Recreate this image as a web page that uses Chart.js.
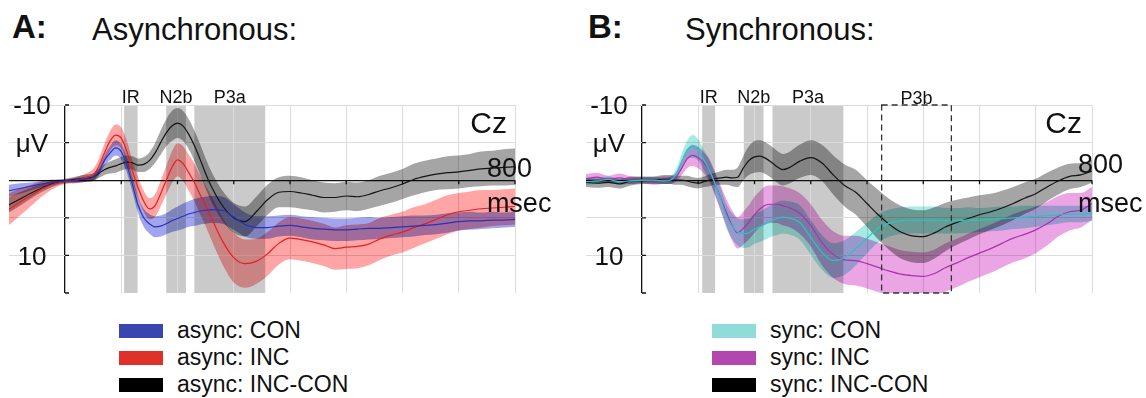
<!DOCTYPE html>
<html>
<head>
<meta charset="utf-8">
<script src="https://cdn.jsdelivr.net/npm/chart.js@4"></script>
<style>
  body { margin: 0; width: 1146px; height: 398px; position: relative; overflow: hidden; background: #fff;
         font-family: "Liberation Sans", Arial, sans-serif; color: #111; }
  .letter { position: absolute; font-size: 33px; font-weight: bold; line-height: 33px; }
  .title { position: absolute; font-size: 31px; line-height: 31px; }
  canvas { position: absolute; }
  .legend { position: absolute; top: 317px; }
  .legend-row { display: flex; align-items: center; height: 27px; font-size: 23px; }
  .swatch { width: 44px; height: 14px; margin-right: 14px; }
</style>
</head>
<body>
<div class="letter" style="left:12px;top:10px">A:</div>
<div class="title" style="left:92px;top:14px">Asynchronous:</div>
<div class="letter" style="left:588px;top:10px">B:</div>
<div class="title" style="left:685px;top:14px">Synchronous:</div>

<canvas id="chartA" width="570" height="220" style="left:0;top:80px"></canvas>
<canvas id="chartB" width="571" height="220" style="left:575px;top:80px"></canvas>

<div class="legend" id="legendA" style="left:119px"></div>
<div class="legend" id="legendB" style="left:712px"></div>

<script>
// time axis (ms)
const times = [-100, -80, -60, -40, -20, 0, 20, 40,
  50, 60, 70, 80, 90, 100, 110, 120, 130, 140, 150, 160, 170, 180, 190, 200, 210, 220, 230, 240, 250, 260,
  280, 300, 320, 340, 360, 380, 400, 420, 440, 460, 480, 500, 520, 540, 560, 580, 600, 620, 640, 660, 680, 700, 720, 740, 760, 780, 800];

// A: asynchronous (µV), with standard error
const asyncCon = [1.4, 1.1, 0.8, 0.5, 0.3, 0.1, 0.0, -0.2,
  -0.4, -1.1, -2.6, -3.6, -4.3, -3.8, -2.0, 0.6, 3.3, 5.0, 5.8, 6.2, 6.1, 5.8, 5.4, 5.1, 4.8, 4.5, 4.3, 4.1, 4.0, 3.9,
  4.0, 4.9, 5.9, 6.3, 6.3, 6.1, 6.0, 6.2, 6.4, 6.5, 6.6, 6.6, 6.5, 6.4, 6.4, 6.3, 6.2, 6.1, 6.0, 5.9, 5.7, 5.5, 5.4, 5.4, 5.3, 5.3, 5.2];
const asyncConSem = [0.8, 0.7, 0.5, 0.4, 0.3, 0.2, 0.3, 0.3,
  0.4, 0.5, 0.7, 0.9, 1.0, 1.0, 1.0, 1.0, 1.1, 1.2, 1.3, 1.4, 1.4, 1.4, 1.5, 1.6, 1.7, 1.7, 1.8, 1.8, 1.8, 1.8,
  1.8, 1.7, 1.6, 1.5, 1.5, 1.4, 1.4, 1.4, 1.5, 1.5, 1.5, 1.5, 1.5, 1.5, 1.4, 1.4, 1.4, 1.4, 1.3, 1.3, 1.3, 1.2, 1.2, 1.1, 1.1, 1.0, 1.0];
const asyncInc = [3.9, 2.9, 2.0, 1.1, 0.5, 0.2, 0.0, -0.4,
  -0.7, -1.8, -3.6, -5.2, -6.0, -5.6, -3.8, -1.2, 1.0, 2.8, 3.8, 3.4, 1.8, 0.0, -1.7, -2.7, -2.2, -1.0, 0.3, 1.9, 3.4, 5.0,
  8.1, 10.3, 11.1, 10.8, 9.8, 8.4, 7.7, 7.9, 8.2, 8.6, 9.1, 8.9, 8.8, 8.5, 7.8, 7.3, 6.9, 6.3, 5.8, 5.2, 4.6, 4.2, 4.0, 3.8, 3.7, 3.6, 3.5];
const asyncIncSem = [2.1, 1.8, 1.4, 1.0, 0.6, 0.3, 0.4, 0.6,
  0.8, 1.0, 1.2, 1.3, 1.4, 1.4, 1.4, 1.4, 1.4, 1.4, 1.4, 1.5, 1.7, 1.9, 2.1, 2.2, 2.3, 2.4, 2.5, 2.6, 2.7, 2.9,
  3.1, 3.3, 3.2, 3.0, 2.9, 2.8, 2.8, 2.8, 2.8, 2.8, 2.8, 2.9, 2.9, 2.8, 2.8, 2.7, 2.7, 2.7, 2.6, 2.6, 2.6, 2.5, 2.5, 2.5, 2.4, 2.4, 2.4];
const asyncDiff = [3.3, 2.5, 1.7, 1.0, 0.4, 0.1, -0.1, -0.3,
  -0.4, -0.9, -1.4, -1.7, -1.9, -2.2, -2.4, -2.3, -2.0, -2.1, -2.6, -3.6, -5.0, -6.3, -7.2, -7.6, -7.2, -6.1, -4.6, -2.8, -0.9, 0.8,
  3.4, 5.0, 5.5, 4.2, 2.6, 1.6, 1.5, 1.7, 2.0, 2.3, 2.3, 2.1, 2.2, 1.9, 1.4, 1.0, 0.5, -0.1, -0.5, -0.8, -1.0, -1.1, -1.3, -1.5, -1.6, -1.7, -1.8];
const asyncDiffSem = [1.0, 0.9, 0.7, 0.5, 0.4, 0.3, 0.4, 0.5,
  0.5, 0.6, 0.7, 0.8, 0.9, 0.9, 0.9, 0.9, 0.9, 1.0, 1.1, 1.3, 1.6, 1.8, 2.0, 2.0, 2.0, 2.0, 2.0, 2.0, 2.0, 2.0,
  2.0, 2.0, 2.0, 2.0, 2.0, 2.0, 2.1, 2.1, 2.0, 2.0, 1.9, 1.9, 1.9, 1.9, 2.0, 2.0, 2.0, 2.1, 2.1, 2.1, 2.2, 2.2, 2.2, 2.3, 2.3, 2.4, 2.4];

// B: synchronous (µV), with standard error
const syncCon = [0.2, 0.1, -0.1, 0.2, 0.1, 0.0, 0.0, 0.1,
  0.0, -0.7, -2.4, -4.0, -4.5, -4.0, -2.7, -1.3, 0.5, 2.5, 4.8, 6.1, 6.9, 7.1, 7.0, 6.5, 6.2, 5.8, 5.4, 5.1, 4.9, 5.0,
  5.6, 7.6, 9.6, 10.7, 10.3, 9.1, 7.7, 6.4, 5.7, 5.4, 5.3, 5.3, 5.3, 5.4, 5.4, 5.3, 5.3, 5.2, 5.1, 5.0, 4.9, 4.8, 4.7, 4.6, 4.5, 4.5, 4.4];
const syncConSem = [0.4, 0.4, 0.4, 0.4, 0.4, 0.4, 0.4, 0.4,
  0.5, 0.7, 1.0, 1.2, 1.5, 1.4, 1.3, 1.3, 1.4, 1.5, 1.6, 1.7, 1.8, 1.9, 1.9, 2.0, 2.0, 2.1, 2.1, 2.2, 2.2, 2.2,
  2.3, 2.3, 2.3, 2.3, 2.3, 2.2, 2.0, 1.9, 1.8, 1.8, 1.8, 1.8, 1.8, 1.7, 1.7, 1.7, 1.6, 1.6, 1.6, 1.5, 1.5, 1.4, 1.3, 1.2, 1.1, 1.1, 1.0];
const syncInc = [-0.2, -0.4, -0.1, -0.3, 0.0, 0.0, 0.1, 0.0,
  0.0, -0.4, -1.5, -2.8, -3.3, -3.0, -2.3, -1.3, 0.5, 2.4, 4.3, 6.0, 7.0, 6.4, 5.6, 4.6, 3.8, 3.3, 3.2, 3.2, 3.4, 3.6,
  4.4, 6.0, 8.3, 9.9, 10.6, 10.7, 11.1, 11.6, 12.1, 12.5, 12.7, 12.8, 12.4, 11.6, 11.0, 10.3, 9.7, 9.1, 8.4, 7.7, 7.2, 6.6, 5.8, 4.8, 4.2, 4.0, 3.1];
const syncIncSem = [0.6, 0.6, 0.5, 0.6, 0.5, 0.4, 0.5, 0.5,
  0.5, 0.6, 0.9, 1.2, 1.4, 1.4, 1.4, 1.5, 1.6, 1.7, 1.8, 2.0, 2.1, 2.2, 2.3, 2.4, 2.4, 2.5, 2.5, 2.5, 2.6, 2.6,
  2.7, 2.8, 3.0, 3.1, 3.2, 3.3, 3.3, 3.3, 3.3, 3.2, 3.2, 3.2, 3.2, 3.2, 3.2, 3.2, 3.2, 3.2, 3.2, 3.2, 3.2, 3.1, 2.9, 2.7, 2.5, 2.3, 2.2];
const syncDiff = [0.3, 0.4, 0.3, 0.5, 0.1, 0.0, 0.0, -0.1,
  -0.1, 0.0, 0.0, 0.1, 0.3, 0.4, 0.2, 0.0, -0.2, -0.3, -0.4, -0.3, -0.4, -1.6, -2.6, -3.1, -3.2, -2.9, -2.4, -1.8, -1.4, -1.6,
  -2.5, -3.0, -2.3, -0.7, 0.7, 1.6, 3.1, 4.6, 5.9, 6.9, 7.4, 7.5, 7.0, 6.2, 5.6, 5.1, 4.6, 4.2, 3.7, 3.1, 2.4, 1.8, 0.9, 0.1, -0.5, -0.7, -1.2];
const syncDiffSem = [0.6, 0.6, 0.6, 0.6, 0.6, 0.5, 0.5, 0.6,
  0.6, 0.6, 0.6, 0.7, 0.7, 0.7, 0.7, 0.8, 0.8, 0.9, 1.0, 1.1, 1.3, 1.6, 1.9, 2.1, 2.1, 2.1, 2.1, 2.1, 2.1, 2.1,
  2.2, 2.3, 2.4, 2.6, 2.8, 3.0, 3.1, 3.3, 3.4, 3.5, 3.5, 3.5, 3.4, 3.2, 3.0, 2.8, 2.6, 2.4, 2.3, 2.2, 2.1, 2.0, 1.9, 1.8, 1.7, 1.6, 1.5];

// analysis windows (ms)
const windowNames = ['IR', 'N2b', 'P3a'];
const asyncWindowStart = [105, 180, 230];
const asyncWindowEnd = [129, 215, 356];
const syncWindowStart = [107, 181, 232];
const syncWindowEnd = [130, 216, 358];
const p3bWindow = [426, 550];

// axis labels
const yLabelValues = [-10, -5, 10];
const yLabelTexts = ['-10', 'μV', '10'];
const xTickValues = [100, 200, 300, 400, 500, 600, 700, 800];
const yTickValues = [-10, -5, 5, 10, 15];

const asyncLegend = ['async: CON', 'async: INC', 'async: INC-CON'];
const syncLegend = ['sync: CON', 'sync: INC', 'sync: INC-CON'];

const FONT = '"Liberation Sans", Arial, sans-serif';

function points(values) {
    return times.map((t, i) => ({ x: t, y: values[i] }));
}

function meanLine(values, color) {
    return {
        data: points(values), isMean: true, borderColor: color, borderWidth: 1.2,
        pointRadius: 0, fill: false, cubicInterpolationMode: 'monotone'
    };
}

function bandPair(values, sem, color) {
    const upper = values.map((v, i) => v - sem[i]);
    const lower = values.map((v, i) => v + sem[i]);
    return [
        { data: points(upper), borderWidth: 0, pointRadius: 0, fill: '+1', backgroundColor: color, cubicInterpolationMode: 'monotone' },
        { data: points(lower), borderWidth: 0, pointRadius: 0, fill: false, cubicInterpolationMode: 'monotone' }
    ];
}

// windows, axes lines, in-plot labels
const panelDecor = {
    id: 'panelDecor',
    beforeDraw(chart, args, o) {
        const { ctx, chartArea: a, scales: { x } } = chart;
        ctx.save();
        ctx.fillStyle = '#cacaca';
        o.starts.forEach((s, i) => {
            const x0 = x.getPixelForValue(s);
            const x1 = x.getPixelForValue(o.ends[i]);
            ctx.fillRect(x0, a.top, x1 - x0, a.bottom - a.top);
        });
        ctx.restore();
    },
    beforeDatasetsDraw(chart) {
        chart.ctx.globalCompositeOperation = 'multiply';
    },
    beforeDatasetDraw(chart, args) {
        if (chart.data.datasets[args.index].isMean) chart.ctx.globalCompositeOperation = 'source-over';
    },
    afterDatasetDraw(chart, args) {
        if (chart.data.datasets[args.index].isMean) chart.ctx.globalCompositeOperation = 'multiply';
    },
    afterDatasetsDraw(chart, args, o) {
        const { ctx, chartArea: a, scales: { x, y } } = chart;
        ctx.globalCompositeOperation = 'source-over';
        ctx.save();
        const x0 = x.getPixelForValue(0);
        const y0 = y.getPixelForValue(0);
        ctx.strokeStyle = '#111';
        ctx.lineWidth = 1.3;
        ctx.beginPath();
        xTickValues.forEach(v => {
            const px = x.getPixelForValue(v);
            ctx.moveTo(px, y0);
            ctx.lineTo(px, y0 + 4);
        });
        yTickValues.forEach(v => {
            const py = y.getPixelForValue(v);
            ctx.moveTo(x0, py);
            ctx.lineTo(x0 + 4, py);
        });
        ctx.stroke();

        if (o.box) {
            const b0 = x.getPixelForValue(o.box[0]);
            const b1 = x.getPixelForValue(o.box[1]);
            ctx.setLineDash([6, 4]);
            ctx.strokeStyle = '#333';
            ctx.lineWidth = 1.3;
            ctx.strokeRect(b0, a.top, b1 - b0, a.bottom - a.top);
            ctx.setLineDash([]);
        }
        ctx.restore();
    },
    afterDraw(chart, args, o) {
        const { ctx, chartArea: a, scales: { x, y } } = chart;
        const x0 = x.getPixelForValue(0);
        const y0 = y.getPixelForValue(0);
        ctx.save();
        ctx.fillStyle = '#111';

        // window names above the plot
        ctx.font = '18px ' + FONT;
        ctx.textAlign = 'center';
        ctx.textBaseline = 'alphabetic';
        windowNames.forEach((n, i) => {
            const cx = (x.getPixelForValue(o.starts[i]) + x.getPixelForValue(o.ends[i])) / 2;
            ctx.fillText(n, cx, a.top - 2);
        });
        if (o.box) {
            ctx.fillText('P3b', (x.getPixelForValue(o.box[0]) + x.getPixelForValue(o.box[1])) / 2, a.top - 1);
        }

        // amplitude labels left of the zero axis
        ctx.font = '26px ' + FONT;
        ctx.textBaseline = 'middle';
        yLabelValues.forEach((v, i) => {
            ctx.fillText(yLabelTexts[i], x0 - 33, y.getPixelForValue(v) + 2);
        });

        ctx.textBaseline = 'alphabetic';
        ctx.textAlign = 'right';
        ctx.font = '30px ' + FONT;
        ctx.fillText('Cz', a.right - o.czInset, a.top + 28);

        ctx.textAlign = 'left';
        ctx.font = '27px ' + FONT;
        ctx.fillText('800', x.getPixelForValue(o.unitAt), y0 + o.numShift);
        ctx.fillText('msec', x.getPixelForValue(o.unitAt), y0 + 32);
        ctx.restore();
    }
};

function makeChart(id, datasets, padding, decor) {
    new Chart(document.getElementById(id), {
        type: 'line',
        data: { datasets: datasets },
        options: {
            responsive: false,
            animation: false,
            events: [],
            layout: { padding: padding },
            plugins: {
                legend: { display: false },
                tooltip: { enabled: false },
                panelDecor: decor
            },
            scales: {
                x: {
                    type: 'linear', min: -100, max: 800,
                    ticks: { display: false, stepSize: 100 },
                    border: { display: false },
                    grid: {
                        drawTicks: false,
                        color: c => c.tick.value === -100 ? 'rgba(0,0,0,0)' : (c.tick.value === 0 ? '#111' : '#dcdcdc'),
                        lineWidth: c => c.tick.value === 0 ? 1.3 : 1
                    }
                },
                y: {
                    type: 'linear', min: -10, max: 15, reverse: true,
                    ticks: { display: false, stepSize: 5 },
                    border: { display: false },
                    grid: {
                        drawTicks: false,
                        color: c => c.tick.value === 15 ? 'rgba(0,0,0,0)' : (c.tick.value === 0 ? '#111' : '#dcdcdc'),
                        lineWidth: c => c.tick.value === 0 ? 1.3 : 1
                    }
                }
            }
        },
        plugins: [panelDecor]
    });
}

makeChart('chartA', [
    meanLine(asyncCon, 'rgb(40,50,180)'),
    meanLine(asyncInc, 'rgb(235,30,30)'),
    meanLine(asyncDiff, 'rgb(20,20,20)'),
    ...bandPair(asyncDiff, asyncDiffSem, 'rgb(165,165,165)'),
    ...bandPair(asyncInc, asyncIncSem, 'rgb(255,165,165)'),
    ...bandPair(asyncCon, asyncConSem, 'rgb(160,165,238)')
], { left: 8.75, right: 55, top: 25, bottom: 7 },
   { starts: asyncWindowStart, ends: asyncWindowEnd, czInset: 8, unitAt: 750, numShift: -3 });

makeChart('chartB', [
    meanLine(syncCon, 'rgb(40,195,195)'),
    meanLine(syncInc, 'rgb(170,50,170)'),
    meanLine(syncDiff, 'rgb(20,20,20)'),
    ...bandPair(syncDiff, syncDiffSem, 'rgb(165,165,165)'),
    ...bandPair(syncInc, syncIncSem, 'rgb(235,165,228)'),
    ...bandPair(syncCon, syncConSem, 'rgb(165,235,228)')
], { left: 10.75, right: 54, top: 25, bottom: 7 },
   { starts: syncWindowStart, ends: syncWindowEnd, box: p3bWindow, czInset: 10, unitAt: 775, numShift: -7 });

function fillLegend(id, labels, colors) {
    const box = document.getElementById(id);
    labels.forEach((label, i) => {
        const row = document.createElement('div');
        row.className = 'legend-row';
        row.innerHTML = '<div class="swatch" style="background:' + colors[i] + '"></div><span>' + label + '</span>';
        box.appendChild(row);
    });
}

fillLegend('legendA', asyncLegend, ['#3a46b0', '#e0302a', '#000']);
fillLegend('legendB', syncLegend, ['#8fdcd8', '#b446b0', '#000']);
</script>
</body>
</html>
